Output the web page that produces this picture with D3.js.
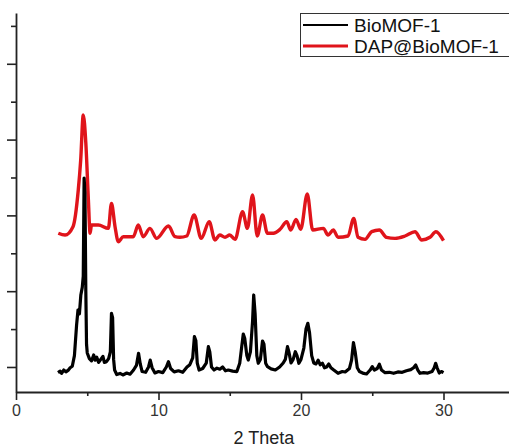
<!DOCTYPE html>
<html>
<head>
<meta charset="utf-8">
<script src="https://cdn.jsdelivr.net/npm/d3@7"></script>
<style>
  html, body { margin: 0; padding: 0; background: #fff; }
  svg { display: block; font-family: "Liberation Sans", Arial, sans-serif; }
</style>
</head>
<body>
<svg id="chart" width="509" height="447"></svg>
<script>
// Powder XRD patterns: 2θ (degrees) vs intensity (a.u.)
const seriesNames = ["BioMOF-1", "DAP@BioMOF-1"];
const seriesColors = ["#000000", "#e0141b"];

const bioTheta = [2.95, 3.1, 3.2, 3.35, 3.5, 3.65, 3.8, 3.95, 4.1, 4.25, 4.35, 4.45, 4.55, 4.65, 4.72, 4.78, 4.84, 4.9, 4.95, 5.0,
  5.15, 5.3, 5.45, 5.55, 5.66, 5.8, 5.95, 6.1, 6.2, 6.35, 6.5, 6.62, 6.7, 6.78, 6.85, 6.92, 7.07, 7.3, 7.5, 7.77,
  8.0, 8.25, 8.45, 8.6, 8.72, 8.85, 9.1, 9.3, 9.42, 9.55, 9.75, 10.0, 10.3, 10.55, 10.7, 10.85, 11.1, 11.4, 11.7, 12.0,
  12.2, 12.4, 12.52, 12.62, 12.72, 12.85, 13.1, 13.35, 13.5, 13.6, 13.72, 13.9, 14.1, 14.3, 14.5, 14.7, 14.9, 15.2, 15.5, 15.7,
  15.84, 15.95, 16.05, 16.2, 16.3, 16.45, 16.6, 16.68, 16.78, 16.9, 17.0, 17.15, 17.3, 17.4, 17.52, 17.65, 17.9, 18.2, 18.5, 18.75,
  18.9, 19.05, 19.15, 19.3, 19.45, 19.6, 19.72, 19.85, 20.0, 20.2, 20.35, 20.48, 20.6, 20.75, 20.9, 21.05, 21.2, 21.35, 21.5, 21.65,
  21.8, 21.95, 22.1, 22.3, 22.6, 22.9, 23.1, 23.4, 23.55, 23.68, 23.8, 23.95, 24.1, 24.4, 24.6, 24.85, 25.0, 25.15, 25.35, 25.5,
  25.65, 25.9, 26.2, 26.5, 26.8, 27.1, 27.4, 27.7, 27.9, 28.05, 28.2, 28.35, 28.6, 28.9, 29.2, 29.35, 29.45, 29.55, 29.7, 29.85, 30.0];
const bioIntensity = [925, 945, 915, 960, 935, 955, 990, 1010, 1150, 1550, 1752, 1700, 1950, 2050, 2200, 3493, 3300, 2000, 1300, 1185,
  1110, 1080, 1158, 1090, 1130, 1060, 1100, 1140, 1060, 1070, 1110, 1200, 1708, 1650, 1100, 960, 900, 915, 895, 920,
  905, 960, 1020, 1181, 1040, 940, 930, 1000, 1092, 990, 921, 940, 925, 1000, 1070, 980, 935, 950, 930, 1000,
  1030, 1120, 1400, 1350, 1050, 960, 980, 1050, 1268, 1200, 1000, 960, 985, 970, 1000, 950, 960, 945, 940, 1050,
  1268, 1435, 1380, 1150, 1092, 1200, 1600, 1950, 1700, 1150, 1049, 1100, 1343, 1300, 1050, 1004, 975, 960, 1000, 1053,
  1100, 1268, 1200, 1053, 1100, 1202, 1150, 1049, 1100, 1250, 1500, 1576, 1450, 1150, 1053, 1040, 1090, 1030, 1050, 990,
  1000, 1040, 990, 960, 917, 940, 934, 980, 1092, 1321, 1200, 990, 940, 915, 908, 960, 1004, 960, 980, 1036,
  960, 925, 930, 917, 935, 930, 950, 965, 990, 1026, 960, 917, 925, 920, 940, 990, 1049, 990, 921, 940, 925];

const dapTheta = [2.97, 3.44, 4.0, 4.37, 4.54, 4.72, 4.9, 5.08, 5.2, 5.3, 5.78, 6.48, 6.7, 6.95, 7.18, 7.53, 8.23, 8.58, 8.93, 9.4,
  9.87, 10.7, 11.16, 11.5, 11.98, 12.5, 13.0, 13.56, 13.96, 14.3, 14.67, 15.0, 15.37, 15.9, 16.24, 16.6, 16.93, 17.3, 17.64, 18.06,
  18.53, 19.0, 19.28, 19.65, 19.98, 20.44, 20.82, 21.57, 21.9, 22.27, 22.6, 23.3, 23.7, 24.0, 24.5, 24.96, 25.5, 26.0, 26.6, 27.3,
  28.0, 28.47, 29.05, 29.47, 30.0];
const dapIntensity = [2764, 2741, 2851, 3335, 3730, 4324, 3955, 3203, 2764, 2873, 2873, 2829, 3159, 2851, 2653, 2719, 2719, 2873, 2719, 2829,
  2697, 2860, 2719, 2711, 2728, 3005, 2697, 2916, 2675, 2741, 2711, 2741, 2684, 3048, 2829, 3269, 2728, 3005, 2764, 2764,
  2816, 2916, 2807, 2948, 2816, 3282, 2807, 2829, 2741, 2807, 2711, 2728, 2961, 2711, 2684, 2785, 2807, 2711, 2697, 2728,
  2785, 2675, 2711, 2785, 2666];

const xMajorTicks = [0, 10, 20, 30];
const xMinorTicks = [5, 15, 25];
const yMajorTicks = [1000, 2000, 3000, 4000, 5000];
const yMinorTicks = [1500, 2500, 3500, 4500, 5500];
const xTitle = "2 Theta";

const svg = d3.select("#chart");
const x = d3.scaleLinear().domain([0, 35]).range([16, 514.75]);
const y = d3.scaleLinear().domain([670, 5670]).range([392, 13]);

const axisColor = "#222";

// x axis: major labelled ticks, minor unlabelled ticks
const gx = svg.append("g").attr("transform", `translate(0,${y(670)})`);
gx.call(d3.axisBottom(x).tickValues(xMajorTicks).tickSizeInner(8).tickSizeOuter(0).tickPadding(5).tickFormat(d3.format("d")));
gx.append("g").call(d3.axisBottom(x).tickValues(xMinorTicks).tickSize(4).tickFormat(""))
  .select(".domain").remove();
gx.selectAll("path.domain").attr("stroke", axisColor).attr("stroke-width", 1.8);
gx.selectAll(".tick line").attr("stroke", axisColor).attr("stroke-width", 1.6);
gx.selectAll(".tick text").attr("font-size", 16).attr("fill", "#333").attr("font-family", "Liberation Sans, Arial, sans-serif");

// y axis: ticks only, no labels
const gy = svg.append("g").attr("transform", `translate(${x(0)},0)`);
gy.call(d3.axisLeft(y).tickValues(yMajorTicks).tickSizeInner(9).tickSizeOuter(0).tickFormat(""));
gy.append("g").call(d3.axisLeft(y).tickValues(yMinorTicks).tickSize(5).tickFormat(""))
  .select(".domain").remove();
gy.selectAll("path.domain").attr("stroke", axisColor).attr("stroke-width", 1.8);
gy.selectAll(".tick line").attr("stroke", axisColor).attr("stroke-width", 1.6);

// axis title
svg.append("text")
  .attr("x", x(17.4)).attr("y", 444)
  .attr("text-anchor", "middle")
  .attr("font-size", 18)
  .attr("fill", "#222")
  .text(xTitle);

// patterns
const line = d3.line().x(d => x(d[0])).y(d => y(d[1]));
const lineSmooth = d3.line().x(d => x(d[0])).y(d => y(d[1])).curve(d3.curveMonotoneX);

const dapData = d3.zip(dapTheta, dapIntensity);
const bioData = d3.zip(bioTheta, bioIntensity);

svg.append("path").datum(dapData)
  .attr("d", lineSmooth)
  .attr("fill", "none").attr("stroke", seriesColors[1])
  .attr("stroke-width", 3.4).attr("stroke-linejoin", "round");

svg.append("path").datum(bioData)
  .attr("d", line)
  .attr("fill", "none").attr("stroke", seriesColors[0])
  .attr("stroke-width", 3.2).attr("stroke-linejoin", "round");

// legend
const lg = svg.append("g");
lg.append("rect")
  .attr("x", 300.5).attr("y", 13.5).attr("width", 212).attr("height", 43)
  .attr("fill", "#fff").attr("stroke", "#333").attr("stroke-width", 1);
seriesNames.forEach((name, i) => {
  const cy = 25 + i * 21;
  lg.append("line")
    .attr("x1", 303).attr("x2", 348).attr("y1", cy).attr("y2", cy)
    .attr("stroke", seriesColors[i]).attr("stroke-width", i === 0 ? 2 : 3);
  lg.append("text")
    .attr("x", 354).attr("y", cy + 6.5)
    .attr("font-size", 19).attr("fill", "#111")
    .text(name);
});
</script>
</body>
</html>
